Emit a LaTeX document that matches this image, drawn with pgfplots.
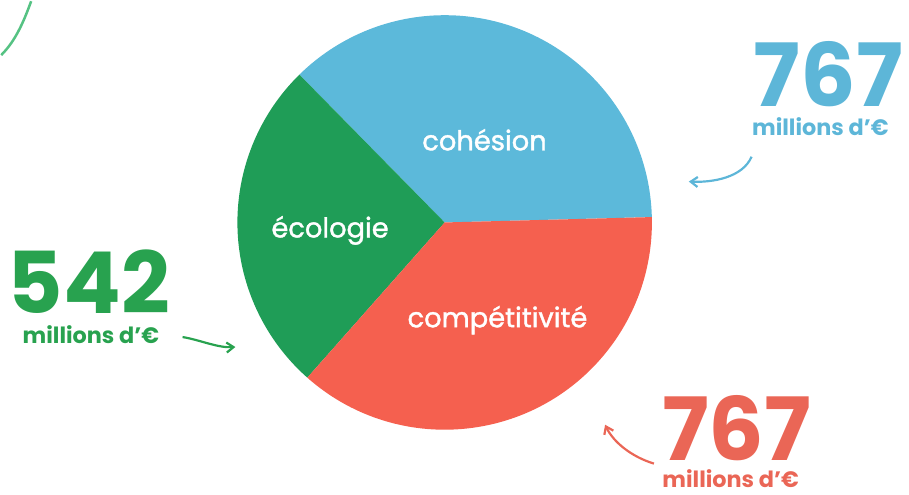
\documentclass[border=0pt]{standalone}
\usepackage{fontspec}
\setmainfont{Poppins}
\newfontfamily\medfont{Poppins}[FakeBold=1.4]
\usepackage{pgfplots}
\usepackage{pgfplotstable}
\pgfplotsset{compat=1.18}
\usetikzlibrary{arrows.meta}
\definecolor{cblue}{HTML}{5CB9DA}
\definecolor{cred}{HTML}{F5604F}
\definecolor{cgreen}{HTML}{1F9D57}
\definecolor{tblue}{HTML}{5DB6D8}
\definecolor{tred}{HTML}{EA6656}
\definecolor{tgreen}{HTML}{28A24F}
\definecolor{lgreen}{HTML}{55C283}

\pgfplotstableread{
label value colour
cohesion 767 cblue
ecologie 542 cgreen
competitivite 767 cred
}\piedata

\begin{document}
\begin{tikzpicture}
\begin{axis}[
  width=909bp, height=493bp, scale only axis,
  xmin=0, xmax=909, ymin=0, ymax=493, y dir=reverse,
  hide axis, clip=false,
]
% pie slices computed from the data table
\pgfplotstablegetrowsof{\piedata}
\pgfmathtruncatemacro{\nrows}{\pgfplotsretval-1}
\xdef\total{0}
\foreach \i in {0,...,\nrows}{
  \pgfplotstablegetelem{\i}{value}\of\piedata
  \pgfmathparse{\total+\pgfplotsretval}
  \xdef\total{\pgfmathresult}
}
\xdef\startang{1.5}
\foreach \i in {0,...,\nrows}{
  \pgfplotstablegetelem{\i}{value}\of\piedata
  \pgfmathsetmacro{\endang}{\startang+360*(\pgfplotsretval/\total)}
  \pgfplotstablegetelem{\i}{colour}\of\piedata
  \edef\cmd{\noexpand\fill[\pgfplotsretval] (axis cs:443,220) -- ++(\startang:208bp) arc[start angle=\startang, end angle=\endang, radius=208bp] -- cycle;}
  \cmd
  \xdef\startang{\endang}
}
% slice labels
\node[white, font=\medfont\fontsize{27.5}{27.5}\selectfont] at (axis cs:483,137) {cohésion};
\node[white, font=\medfont\fontsize{27.5}{27.5}\selectfont] at (axis cs:328,228) {écologie};
\node[white, font=\medfont\fontsize{27.5}{27.5}\selectfont] at (axis cs:496,318) {compétitivité};
% value annotations
\node[tblue, font=\bfseries\fontsize{88}{88}\selectfont, anchor=base, inner sep=0pt] at (axis cs:828,104) {767};
\node[tblue, font=\bfseries\fontsize{22.5}{22.5}\selectfont, anchor=base, inner sep=0pt] at (axis cs:820,133) {millions d’€};
\node[tgreen, font=\bfseries\fontsize{86}{86}\selectfont, anchor=base, inner sep=0pt] at (axis cs:86,311) {542};
\node[tgreen, font=\bfseries\fontsize{22.5}{22.5}\selectfont, anchor=base, inner sep=0pt] at (axis cs:88,341) {millions d’€};
\node[tred, font=\bfseries\fontsize{88}{88}\selectfont, anchor=base, inner sep=0pt] at (axis cs:736,459) {767};
\node[tred, font=\bfseries\fontsize{22.5}{22.5}\selectfont, anchor=base, inner sep=0pt] at (axis cs:730,486) {millions d’€};
% arrows
\draw[tblue, line width=2.2bp, -{Straight Barb[length=7bp,width=10bp]}] (axis cs:751,154) .. controls (axis cs:742,175) and (axis cs:712,180) .. (axis cs:688,179);
\draw[tgreen, line width=2.2bp, -{Straight Barb[length=7bp,width=10bp]}] (axis cs:180,335) .. controls (axis cs:198,338) and (axis cs:215,346) .. (axis cs:233,345);
\draw[tred, line width=2.2bp, -{Straight Barb[length=7bp,width=10bp]}] (axis cs:653,462) .. controls (axis cs:630,455) and (axis cs:612,440) .. (axis cs:604,423);
\draw[lgreen, line width=2.5bp] (axis cs:-2,52) .. controls (axis cs:12,38) and (axis cs:20,20) .. (axis cs:28,-2);
\end{axis}
\useasboundingbox (0,0) rectangle (909bp,493bp);
\end{tikzpicture}
\end{document}
